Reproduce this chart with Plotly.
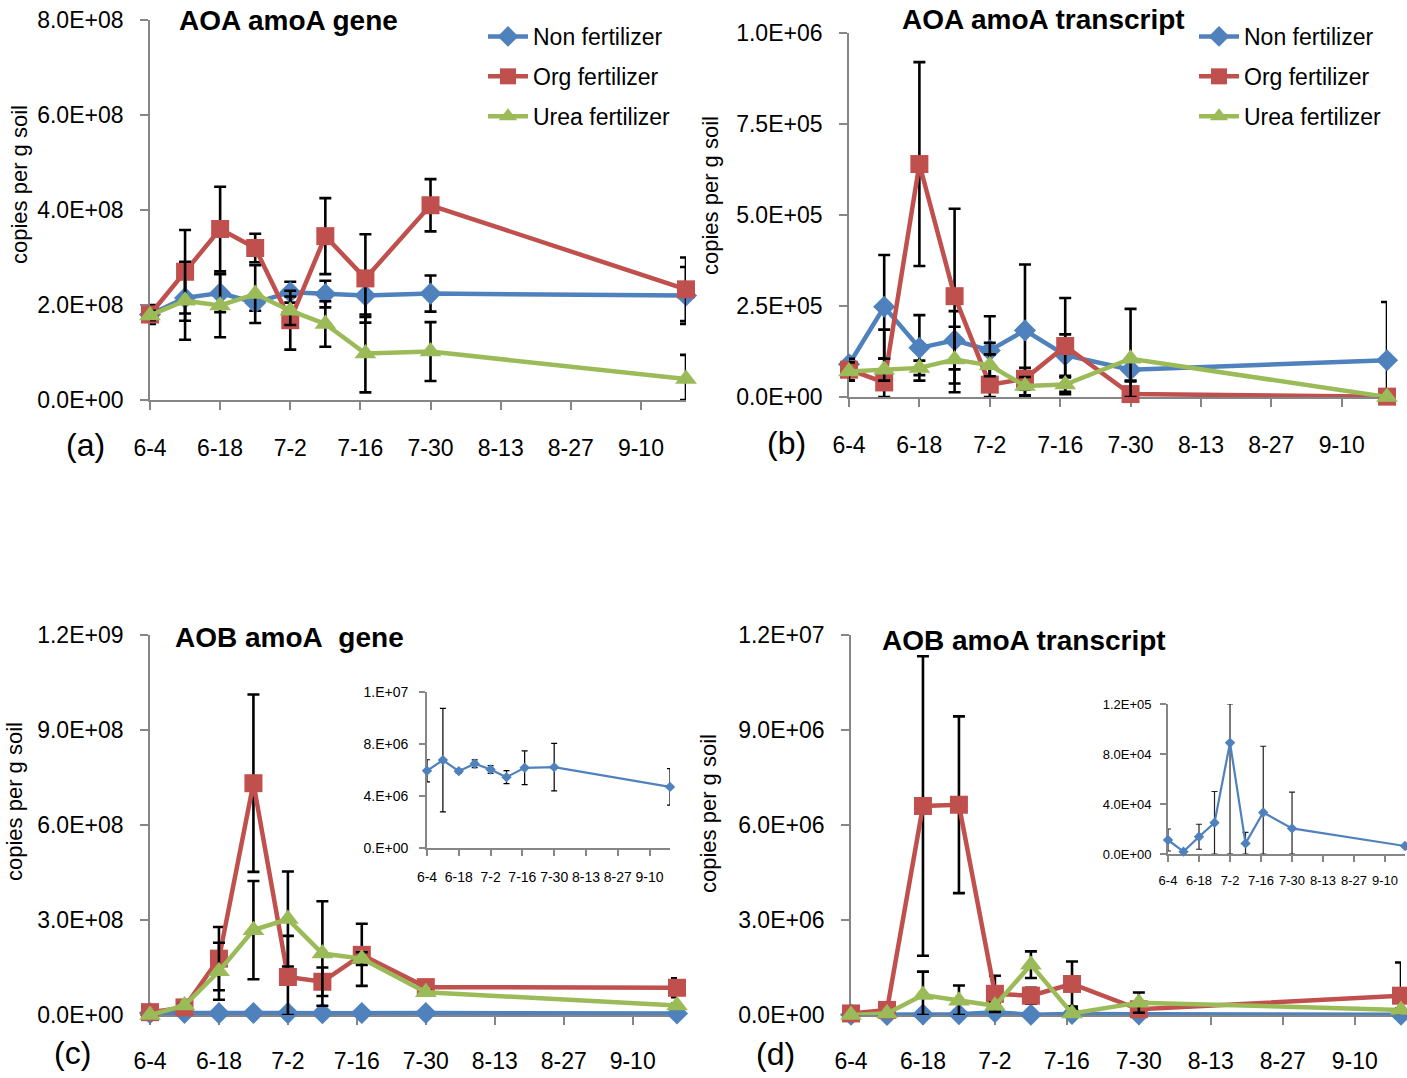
import plotly.graph_objects as go

W, H = 1407, 1078

# Sampling dates and axis tick labels
dates = ["2013-06-04", "2013-06-11", "2013-06-18", "2013-06-25", "2013-07-02",
         "2013-07-09", "2013-07-17", "2013-07-30", "2013-09-19"]
tick_dates = ["2013-06-04", "2013-06-18", "2013-07-02", "2013-07-16",
              "2013-07-30", "2013-08-13", "2013-08-27", "2013-09-10"]
tick_labels = ["6-4", "6-18", "7-2", "7-16", "7-30", "8-13", "8-27", "9-10"]

series_names = ["Non fertilizer", "Org fertilizer", "Urea fertilizer"]

# (a) AOA amoA gene, copies per g soil
aoa_gene_non = [1.80e8, 2.15e8, 2.25e8, 2.05e8, 2.27e8, 2.23e8, 2.20e8, 2.24e8, 2.20e8]
aoa_gene_non_err = [0.10e8, 0.48e8, 0.40e8, 0.17e8, 0.22e8, 0.28e8, 0.45e8, 0.38e8, 0.60e8]
aoa_gene_org = [1.80e8, 2.70e8, 3.60e8, 3.20e8, 1.68e8, 3.45e8, 2.56e8, 4.10e8, 2.33e8]
aoa_gene_org_err = [0.20e8, 0.88e8, 0.89e8, 0.30e8, 0.62e8, 0.80e8, 0.93e8, 0.55e8, 0.67e8]
aoa_gene_urea = [1.78e8, 2.09e8, 1.99e8, 2.23e8, 1.88e8, 1.60e8, 0.98e8, 1.02e8, 0.44e8]
aoa_gene_urea_err = [0.10e8, 0.82e8, 0.67e8, 0.61e8, 0.30e8, 0.48e8, 0.82e8, 0.62e8, 0.51e8]

# (b) AOA amoA transcript
aoa_tr_non = [0.90e5, 2.48e5, 1.35e5, 1.56e5, 1.28e5, 1.83e5, 1.15e5, 0.75e5, 1.01e5]
aoa_tr_non_err = [0.20e5, 1.42e5, 0.90e5, 0.80e5, 0.94e5, 1.81e5, 0.57e5, 0.30e5, 1.60e5]
aoa_tr_org = [0.75e5, 0.40e5, 6.40e5, 2.77e5, 0.34e5, 0.50e5, 1.40e5, 0.08e5, 0.01e5]
aoa_tr_org_err = [0.30e5, 1.45e5, 2.80e5, 2.40e5, 1.15e5, 0.30e5, 1.32e5, 0.35e5, 0.0]
aoa_tr_urea = [0.70e5, 0.75e5, 0.80e5, 1.03e5, 0.87e5, 0.30e5, 0.34e5, 1.05e5, 0.0]
aoa_tr_urea_err = [0.25e5, 0.30e5, 0.20e5, 0.90e5, 0.30e5, 0.25e5, 0.20e5, 1.37e5, 0.0]

# (c) AOB amoA gene
aob_gene_non = [5.94e6, 6.76e6, 5.91e6, 6.48e6, 6.04e6, 5.45e6, 6.17e6, 6.22e6, 4.70e6]
aob_gene_non_err = [0.85e6, 3.98e6, 0.15e6, 0.30e6, 0.30e6, 0.50e6, 1.30e6, 1.83e6, 1.40e6]
aob_gene_org = [0.09e8, 0.24e8, 1.78e8, 7.32e8, 1.20e8, 1.05e8, 1.90e8, 0.88e8, 0.86e8]
aob_gene_org_err = [0.03e8, 0.05e8, 1.00e8, 2.80e8, 1.30e8, 0.45e8, 0.98e8, 0.10e8, 0.30e8]
aob_gene_urea = [0.0, 0.30e8, 1.38e8, 2.68e8, 3.03e8, 1.94e8, 1.78e8, 0.72e8, 0.30e8]
aob_gene_urea_err = [0.0, 0.05e8, 0.90e8, 1.55e8, 1.50e8, 1.65e8, 0.20e8, 0.05e8, 0.05e8]

# (d) AOB amoA transcript
aob_tr_non = [1.12e4, 0.19e4, 1.38e4, 2.50e4, 8.90e4, 0.85e4, 3.32e4, 2.05e4, 0.64e4]
aob_tr_non_err = [0.88e4, 0.0, 1.00e4, 2.50e4, 8.90e4, 0.88e4, 5.30e4, 2.90e4, 0.0]
aob_tr_org = [0.05e6, 0.16e6, 6.60e6, 6.64e6, 0.67e6, 0.61e6, 0.98e6, 0.18e6, 0.61e6]
aob_tr_org_err = [0.02e6, 0.05e6, 4.73e6, 2.79e6, 0.57e6, 0.25e6, 0.71e6, 0.20e6, 1.05e6]
aob_tr_urea = [0.0, 0.05e6, 0.63e6, 0.45e6, 0.29e6, 1.59e6, 0.05e6, 0.39e6, 0.16e6]
aob_tr_urea_err = [0.0, 0.02e6, 0.74e6, 0.48e6, 0.10e6, 0.42e6, 0.15e6, 0.32e6, 0.05e6]

# y-axis ticks and labels for each panel
a_ticks = [0, 2e8, 4e8, 6e8, 8e8]
a_labels = ["0.0E+00", "2.0E+08", "4.0E+08", "6.0E+08", "8.0E+08"]
b_ticks = [0, 2.5e5, 5e5, 7.5e5, 1e6]
b_labels = ["0.0E+00", "2.5E+05", "5.0E+05", "7.5E+05", "1.0E+06"]
c_ticks = [0, 3e8, 6e8, 9e8, 1.2e9]
c_labels = ["0.0E+00", "3.0E+08", "6.0E+08", "9.0E+08", "1.2E+09"]
d_ticks = [0, 3e6, 6e6, 9e6, 1.2e7]
d_labels = ["0.0E+00", "3.0E+06", "6.0E+06", "9.0E+06", "1.2E+07"]
ci_ticks = [0, 4e6, 8e6, 1.2e7]
ci_labels = ["0.E+00", "4.E+06", "8.E+06", "1.E+07"]
di_ticks = [0, 4e4, 8e4, 1.2e5]
di_labels = ["0.0E+00", "4.0E+04", "8.0E+04", "1.2E+05"]

BLUE, RED, GREEN = "#4F81BD", "#C0504D", "#9BBB59"
AX = "#868686"
FONT = "Liberation Sans, Arial, sans-serif"


def px(x):
    return x / W


def py(y):
    return 1 - y / H


fig = go.Figure()


def add_series(n, y, err, color, symbol, size, lw, ymax, name=None, legend=None,
               ecolor="black", eth=2.6, ew=6):
    # error bars are cut at the plot-area edges
    plus = [min(e, ymax - v) for v, e in zip(y, err)]
    minus = [min(e, v) for v, e in zip(y, err)]
    sfx = "" if n == 1 else str(n)
    fig.add_trace(go.Scatter(
        x=dates, y=y, mode="lines+markers", xaxis="x" + sfx, yaxis="y" + sfx,
        line=dict(color=color, width=lw),
        marker=dict(symbol=symbol, size=size, color=color, line=dict(width=0)),
        error_y=dict(type="data", symmetric=False, array=plus, arrayminus=minus,
                     color=ecolor, thickness=eth, width=ew),
        cliponaxis=False, name=name or "", showlegend=legend is not None,
        legend=legend if legend else "legend", legendgroup=(name or "") + (legend or ""),
    ))


MAIN = [("diamond", 17), ("square", 18), ("triangle-up", 19)]
COLORS = [BLUE, RED, GREEN]

panels = [
    (1, [aoa_gene_non, aoa_gene_org, aoa_gene_urea],
     [aoa_gene_non_err, aoa_gene_org_err, aoa_gene_urea_err], 8e8, "legend"),
    (2, [aoa_tr_non, aoa_tr_org, aoa_tr_urea],
     [aoa_tr_non_err, aoa_tr_org_err, aoa_tr_urea_err], 1e6, "legend2"),
    (3, [aob_gene_non, aob_gene_org, aob_gene_urea],
     [aob_gene_non_err, aob_gene_org_err, aob_gene_urea_err], 1.2e9, None),
    (4, [aob_tr_non, aob_tr_org, aob_tr_urea],
     [aob_tr_non_err, aob_tr_org_err, aob_tr_urea_err], 1.2e7, None),
]
for n, ys, errs, ymax, leg in panels:
    for i in range(3):
        add_series(n, ys[i], errs[i], COLORS[i], MAIN[i][0], MAIN[i][1], 4.5, ymax,
                   name=series_names[i], legend=leg)

# insets: non-fertilizer AOB series on its own scale
add_series(5, aob_gene_non, aob_gene_non_err, BLUE, "diamond", 8, 2.2, 1.2e7,
           eth=1.2, ew=3)
add_series(6, aob_tr_non, aob_tr_non_err, BLUE, "diamond", 8, 2.2, 1.2e5,
           ecolor="#222222", eth=1.2, ew=3)


def xaxis(x0, x1, anchor, fsize, standoff, ticklen=8):
    return dict(domain=[px(x0), px(x1)], anchor=anchor, type="date",
                range=[dates[0], dates[-1]], tickvals=tick_dates, ticktext=tick_labels,
                showline=True, linecolor=AX, linewidth=1.8, ticks="outside",
                ticklen=ticklen, tickwidth=1.8, tickcolor=AX, showgrid=False,
                zeroline=False, tickfont=dict(family=FONT, size=fsize, color="#000"),
                ticklabelstandoff=standoff, layer="below traces", fixedrange=True,
                automargin=False)


def yaxis(y0, y1, anchor, ymax, tv, tt, fsize, standoff, ticklen=8):
    return dict(domain=[py(y1), py(y0)], anchor=anchor, range=[0, ymax],
                tickvals=tv, ticktext=tt, showline=True, linecolor=AX, linewidth=1.8,
                ticks="outside", ticklen=ticklen, tickwidth=1.8, tickcolor=AX,
                showgrid=False, zeroline=False,
                tickfont=dict(family=FONT, size=fsize, color="#000"),
                ticklabelstandoff=standoff, layer="below traces", fixedrange=True,
                automargin=False)


fig.update_layout(
    template="none",
    width=W, height=H, margin=dict(l=0, r=0, t=0, b=0, pad=0, autoexpand=False),
    autosize=False,
    paper_bgcolor="white", plot_bgcolor="white",
    xaxis=xaxis(150, 686, "y", 23, 18),
    yaxis=yaxis(20, 400, "x", 8e8, a_ticks, a_labels, 23, 12),
    xaxis2=xaxis(849, 1387, "y2", 23, 18),
    yaxis2=yaxis(33, 397, "x2", 1e6, b_ticks, b_labels, 23, 12),
    xaxis3=xaxis(150, 677, "y3", 23, 16),
    yaxis3=yaxis(635, 1015, "x3", 1.2e9, c_ticks, c_labels, 23, 12),
    xaxis4=xaxis(851, 1401, "y4", 23, 16),
    yaxis4=yaxis(635, 1015, "x4", 1.2e7, d_ticks, d_labels, 23, 12),
    xaxis5=xaxis(427, 670, "y5", 14, 9, ticklen=6),
    yaxis5=yaxis(692, 848, "x5", 1.2e7, ci_ticks, ci_labels, 14, 8, ticklen=6),
    xaxis6=xaxis(1168, 1405, "y6", 13, 7, ticklen=6),
    yaxis6=yaxis(704, 854, "x6", 1.2e5, di_ticks, di_labels, 13, 6, ticklen=6),
    legend=dict(x=px(483), y=py(15), xanchor="left", yanchor="top",
                font=dict(family=FONT, size=23, color="#000"),
                bgcolor="rgba(0,0,0,0)", tracegroupgap=7, itemwidth=40),
    legend2=dict(x=px(1194), y=py(15), xanchor="left", yanchor="top",
                 font=dict(family=FONT, size=23, color="#000"),
                 bgcolor="rgba(0,0,0,0)", tracegroupgap=7, itemwidth=40),
    showlegend=True,
)

annotations = []
titles = [("AOA amoA gene", 288, 21), ("AOA amoA transcript", 1043, 20),
          ("AOB amoA  gene", 289, 637), ("AOB amoA transcript", 1024, 640)]
for text, x, y in titles:
    annotations.append(dict(text="<b>" + text.replace("  ", "&nbsp; ") + "</b>",
                            x=px(x), y=py(y), xref="paper", yref="paper",
                            showarrow=False, xanchor="center", yanchor="middle",
                            font=dict(family=FONT, size=28, color="#000")))
letters = [("(a)", 85, 445), ("(b)", 786, 443), ("(c)", 72, 1053), ("(d)", 775, 1054)]
for text, x, y in letters:
    annotations.append(dict(text=text, x=px(x), y=py(y), xref="paper", yref="paper",
                            showarrow=False, xanchor="center", yanchor="middle",
                            font=dict(family=FONT, size=32, color="#000")))
ytitles = [(20, 185), (710, 196), (14, 802), (708, 814)]
for x, y in ytitles:
    annotations.append(dict(text="copies per g soil", x=px(x), y=py(y), xref="paper",
                            yref="paper", showarrow=False, textangle=-90,
                            xanchor="center", yanchor="middle",
                            font=dict(family=FONT, size=22, color="#000")))
fig.update_layout(annotations=annotations)

fig.write_html("out.html")
